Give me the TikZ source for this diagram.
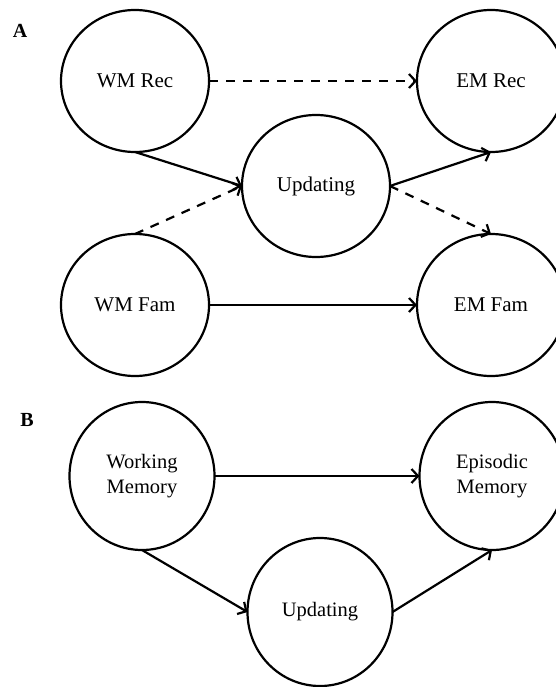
\documentclass[tikz,border=0pt]{standalone}
\usepackage{fontspec}
\setmainfont{Liberation Serif}
\usetikzlibrary{shapes.geometric,arrows.meta}
\begin{document}
\begin{tikzpicture}[x=1pt,y=-1pt,
  every node/.style={inner sep=0pt, outer sep=0pt},
  stateA/.style={ellipse, draw, line width=2.2pt, minimum width=148pt, minimum height=142pt,
    font=\fontsize{21}{25}\selectfont, align=center},
  stateB/.style={ellipse, draw, line width=2.2pt, minimum width=145pt, minimum height=148pt,
    font=\fontsize{20.5}{25}\selectfont, align=center},
  panel/.style={font=\fontsize{20}{22}\selectfont\bfseries},
  link/.style={line width=2.2pt, -{Straight Barb[length=6.5pt,width=14pt,line width=2.2pt]}},
  dashlink/.style={link, dash pattern=on 9pt off 8pt}
]
\useasboundingbox (0,0) rectangle (556,687);
\clip (0,0) rectangle (556,687);

% Panel A
\node[panel] (labA) at (20,31) {A};
\node[stateA] (wmrec) at (135,81) {WM Rec};
\node[stateA] (emrec) at (491,81) {EM Rec};
\node[stateA] (updA) at (316,186) {Updating};
\node[stateA] (wmfam) at (135,305) {WM Fam};
\node[stateA] (emfam) at (491,305) {EM Fam};

\draw[dashlink] (wmrec.east) -- (emrec.west);
\draw[link] (wmrec.south) -- (updA.west);
\draw[dashlink] (wmfam.north) -- (updA.west);
\draw[link] (updA.east) -- (emrec.south);
\draw[dashlink] (updA.east) -- (emfam.north);
\draw[link] (wmfam.east) -- (emfam.west);

% Panel B
\node[panel] (labB) at (27,420) {B};
\node[stateB] (wm) at (142,476) {Working\\Memory};
\node[stateB] (em) at (492,476) {Episodic\\Memory};
\node[stateB] (updB) at (320,612) {Updating};

\draw[link] (wm.east) -- (em.west);
\draw[link] (wm.south) -- (updB.west);
\draw[link] (updB.east) -- (em.south);
\end{tikzpicture}
\end{document}
